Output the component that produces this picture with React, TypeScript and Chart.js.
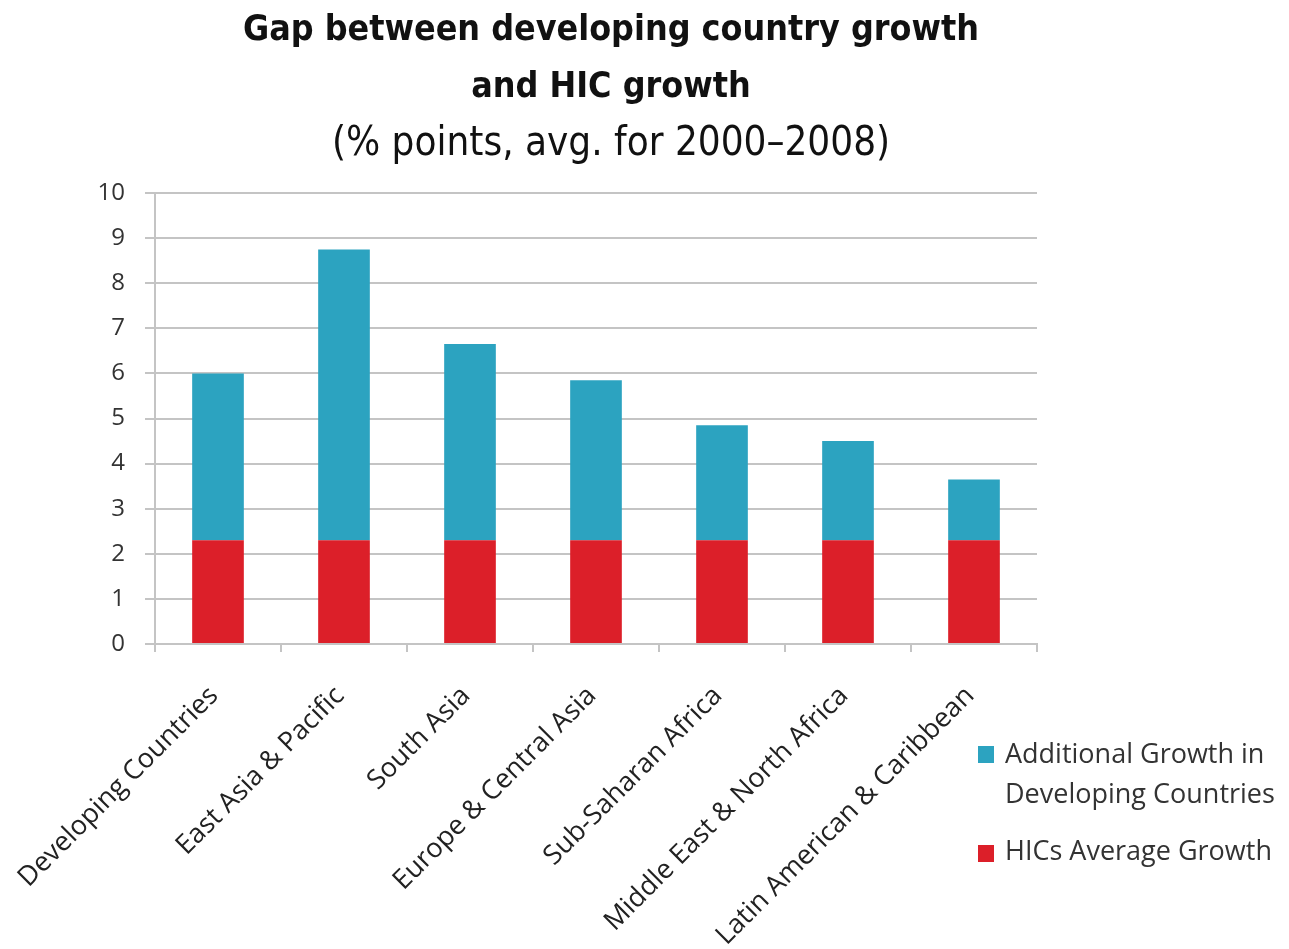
import React, { useEffect, useRef } from 'react';
import { Chart, registerables } from 'chart.js';

Chart.register(...registerables);

const categories = [
  'Developing Countries',
  'East Asia & Pacific',
  'South Asia',
  'Europe & Central Asia',
  'Sub-Saharan Africa',
  'Middle East & North Africa',
  'Latin American & Caribbean',
];
const hicGrowth = [2.3, 2.3, 2.3, 2.3, 2.3, 2.3, 2.3];
const additionalGrowth = [3.7, 6.45, 4.35, 3.55, 2.55, 2.2, 1.35];
const yTickMin = 0;
const yTickMax = 10;
const yTickStep = 1;
const titleLines = ['Gap between developing country growth', 'and HIC growth'];
const subtitleLine = '(% points, avg. for 2000\u20132008)';
const additionalLabel = ['Additional Growth in', 'Developing Countries'];
const hicLabel = ['HICs Average Growth'];

const BLUE = '#2ca3c0';
const RED = '#dc1f29';
const GRID = '#c4c4c4';

const overlayPlugin = {
  id: 'overlay',
  afterDraw(chart: any) {
    const ctx = chart.ctx as CanvasRenderingContext2D;
    ctx.save();
    ctx.fillStyle = '#111';
    ctx.textAlign = 'center';
    ctx.textBaseline = 'middle';
    const cx = 611;
    ctx.font = 'bold 35.5px "Liberation Sans Narrow", "DejaVu Sans Condensed", sans-serif';
    ctx.fillText(titleLines[0], cx, 31);
    ctx.fillText(titleLines[1], cx, 88);
    ctx.font = '40px "Liberation Sans Narrow", "DejaVu Sans Condensed", sans-serif';
    ctx.fillText(subtitleLine, cx, 145);

    // legend
    ctx.textAlign = 'left';
    ctx.font = '27px "Open Sans", sans-serif';
    ctx.fillStyle = BLUE;
    ctx.fillRect(978, 746, 16, 17);
    ctx.fillStyle = RED;
    ctx.fillRect(978, 845, 16, 17);
    ctx.fillStyle = '#333';
    ctx.fillText(additionalLabel[0], 1005, 755);
    ctx.fillText(additionalLabel[1], 1005, 795);
    ctx.fillText(hicLabel[0], 1005, 852);
    ctx.restore();
  },
};

export default function App() {
  const ref = useRef<HTMLCanvasElement>(null);
  useEffect(() => {
    if (!ref.current) return;
    const chart = new Chart(ref.current, {
      type: 'bar',
      data: {
        labels: categories,
        datasets: [
          {
            label: hicLabel.join(' '),
            data: hicGrowth,
            backgroundColor: RED,
            stack: 's',
          },
          {
            label: additionalLabel.join(' '),
            data: additionalGrowth,
            backgroundColor: BLUE,
            stack: 's',
          },
        ],
      },
      options: {
        animation: false,
        responsive: false,
        devicePixelRatio: 1,
        layout: { padding: { top: 193, right: 252, left: 0, bottom: 0 } },
        datasets: { bar: { categoryPercentage: 1, barPercentage: 0.41 } },
        plugins: {
          legend: { display: false },
          title: { display: false },
          tooltip: { enabled: false },
        },
        scales: {
          x: {
            stacked: true,
            grid: {
              display: true,
              drawOnChartArea: false,
              drawTicks: true,
              tickLength: 8,
              color: GRID,
              lineWidth: 2,
              offset: true,
            },
            border: { display: true, color: GRID, width: 2 },
            ticks: {
              autoSkip: false,
              minRotation: 45,
              maxRotation: 45,
              padding: 28,
              labelOffset: -4,
              color: '#222',
              font: { family: '"Open Sans", sans-serif', size: 27 },
            },
            afterFit: (scale: any) => {
              scale.height = 305;
              scale.paddingLeft = 0;
              scale.paddingRight = 0;
            },
          },
          y: {
            stacked: true,
            min: yTickMin,
            max: yTickMax,
            ticks: {
              stepSize: yTickStep,
              padding: 20,
              color: '#333',
              font: { family: '"Open Sans", sans-serif', size: 24 },
            },
            grid: { color: GRID, lineWidth: 2, tickLength: 10 },
            border: { display: true, color: GRID, width: 2 },
            afterFit: (scale: any) => {
              scale.width = 155;
            },
          },
        },
      },
      plugins: [overlayPlugin],
    });
    return () => chart.destroy();
  }, []);
  return (
    <div style={{ position: 'fixed', left: 0, top: 0, width: 1289, height: 949, background: '#fff' }}>
      <canvas ref={ref} width={1289} height={949} />
    </div>
  );
}
